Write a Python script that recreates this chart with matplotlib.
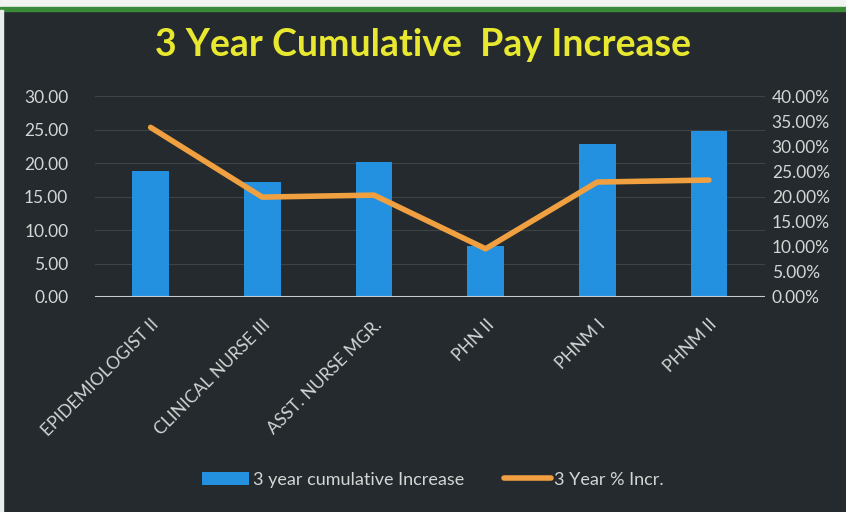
import matplotlib
matplotlib.use("Agg")
import matplotlib.pyplot as plt
from matplotlib.ticker import FuncFormatter, MultipleLocator

plt.rcParams['font.family'] = ['Lato', 'DejaVu Sans']

jobs = ["EPIDEMIOLOGIST II", "CLINICAL NURSE III", "ASST. NURSE MGR.",
        "PHN II", "PHNM I", "PHNM II"]
cum_increase = [18.9, 17.2, 20.2, 7.6, 22.8, 24.8]
pct_increase = [33.8, 19.9, 20.3, 9.6, 22.9, 23.3]

bg = "#242a2d"
txt = "#d4d6d6"

fig = plt.figure(figsize=(8.46, 5.12), dpi=100)
fig.patch.set_facecolor(bg)

# white strip + green edge at top, white edge on the left (screenshot frame)
fig.patches.append(plt.Rectangle((0, 0.986), 1, 0.014, transform=fig.transFigure,
                                 color="#f2f4f2", zorder=0))
fig.patches.append(plt.Rectangle((0, 0.978), 1, 0.009, transform=fig.transFigure,
                                 color="#3a8a3a", zorder=0))
fig.patches.append(plt.Rectangle((0, 0), 0.004, 0.98, transform=fig.transFigure,
                                 color="#e8ecea", zorder=0))

ax1 = fig.add_axes([0.112, 0.42, 0.792, 0.392])
ax1.set_facecolor(bg)
x = range(len(jobs))
ax1.bar(x, cum_increase, width=0.33, color="#2390e0", zorder=2,
        label="3 year cumulative Increase")
ax1.set_ylim(0, 30)
ax1.set_xlim(-0.5, len(jobs) - 0.5)
ax1.yaxis.set_major_locator(MultipleLocator(5))
ax1.yaxis.set_major_formatter(FuncFormatter(lambda v, p: f"{v:.2f}"))
ax1.grid(axis="y", color="#3c4446", linewidth=0.8, zorder=0)
ax1.axhline(0, color="#c8cccc", linewidth=1.5, zorder=3)
for s in ax1.spines.values():
    s.set_visible(False)
ax1.tick_params(axis="both", length=0, colors=txt, labelsize=12.5)
ax1.tick_params(axis="y", pad=19)
ax1.tick_params(axis="x", pad=14)
ax1.set_xticks(list(x))
ax1.set_xticklabels(jobs, rotation=45, ha="right", rotation_mode="anchor",
                    fontsize=12.5)

ax2 = ax1.twinx()
ax2.plot(x, pct_increase, color="#f0a040", linewidth=4, zorder=4,
         solid_capstyle="round", label="3 Year % Incr.")
ax2.set_ylim(0, 40)
ax2.yaxis.set_major_locator(MultipleLocator(5))
ax2.yaxis.set_major_formatter(FuncFormatter(lambda v, p: f"{v:.2f}%"))
for s in ax2.spines.values():
    s.set_visible(False)
ax2.tick_params(axis="y", length=0, colors=txt, labelsize=12.5, pad=5)

fig.suptitle("3 Year Cumulative  Pay Increase", x=0.5, y=0.945,
             color="#e8e830", fontsize=27, fontweight="bold")

h1, l1 = ax1.get_legend_handles_labels()
h2, l2 = ax2.get_legend_handles_labels()
leg = fig.legend(h1 + h2, l1 + l2, loc="center", bbox_to_anchor=(0.512, 0.063),
                 ncol=2, frameon=False, fontsize=13, labelcolor=txt,
                 handlelength=2.6, handletextpad=0.2, columnspacing=2.2)

fig.savefig("out.png", dpi=100, facecolor=bg)
